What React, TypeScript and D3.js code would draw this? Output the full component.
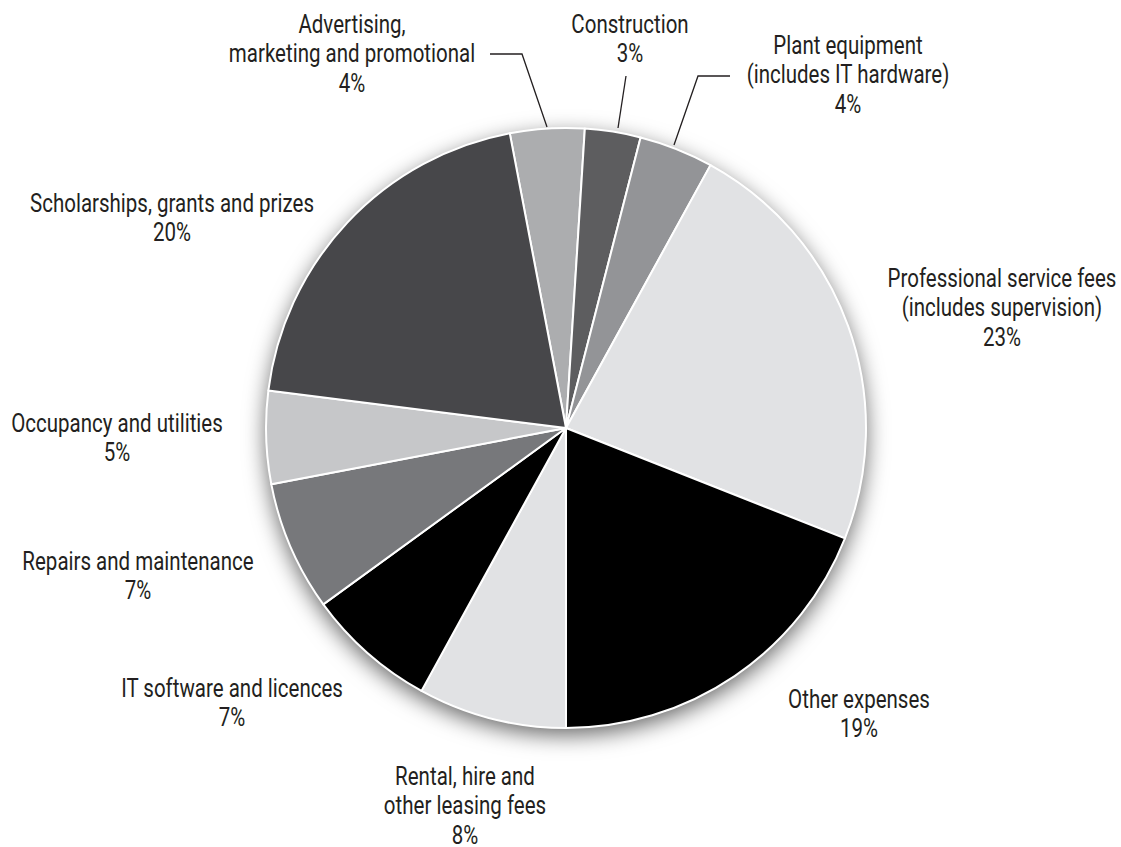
import React from "react";
import * as d3 from "d3";

const categories = [
  "Advertising,\nmarketing and promotional",
  "Construction",
  "Plant equipment\n(includes IT hardware)",
  "Professional service fees\n(includes supervision)",
  "Other expenses",
  "Rental, hire and\nother leasing fees",
  "IT software and licences",
  "Repairs and maintenance",
  "Occupancy and utilities",
  "Scholarships, grants and prizes",
];
const values = [4, 3, 4, 23, 19, 8, 7, 7, 5, 20];
const colors = [
  "#acadaf", "#5d5d5f", "#939497", "#e1e2e4", "#000000",
  "#e1e2e4", "#000000", "#77787b", "#c6c7c9", "#47474a",
];

// label layout: center x, first baseline y
const labelPos: [number, number][] = [
  [352, 33], [630, 33], [848, 54], [1002, 287], [859, 708],
  [465, 785], [232, 697], [138, 570], [117, 432], [172, 212],
];
// leader lines (index -> polyline points)
const leaders: { [k: number]: [number, number][] } = {
  0: [[490, 54], [522, 54], [547, 127]],
  1: [[626, 76], [618, 128]],
  2: [[730, 76], [698, 76], [674, 145]],
};

const W = 1121, H = 847;
const cx = 566, cy = 428, R = 300;
const startAngle = -0.03 * 2 * Math.PI;
const lineH = 29.3;
const FONT = "Roboto, 'Noto Sans', sans-serif";
const FS = 25;
const SX = 0.82;

export default function App() {
  const pie = d3.pie<number>().sort(null).value((d) => d)
    .startAngle(startAngle).endAngle(startAngle + 2 * Math.PI);
  const arcs = pie(values);
  const arc = d3.arc<d3.PieArcDatum<number>>().innerRadius(0).outerRadius(R);
  const line = d3.line();
  return (
    <svg width={W} height={H} style={{ position: "absolute", left: 0, top: 0, background: "#fff" }}>
      <defs>
        <filter id="sh" x="-20%" y="-20%" width="140%" height="140%">
          <feDropShadow dx="0" dy="7" stdDeviation="11" floodColor="#000" floodOpacity="0.6" />
        </filter>
      </defs>
      <circle cx={cx} cy={cy} r={R} fill="#fff" filter="url(#sh)" />
      <g transform={`translate(${cx},${cy})`}>
        {arcs.map((a, i) => (
          <path key={i} d={arc(a) || ""} fill={colors[i]} stroke="#fff" strokeWidth={2} strokeLinejoin="round" />
        ))}
      </g>
      {Object.entries(leaders).map(([k, pts]) => (
        <path key={k} d={line(pts) || ""} fill="none" stroke="#231f20" strokeWidth={1.3} />
      ))}
      {categories.map((c, i) => {
        const lines = [...c.split("\n"), `${values[i]}%`];
        const [x, y] = labelPos[i];
        return (
          <text key={i} transform={`translate(${x},${y}) scale(${SX},1)`} textAnchor="middle"
            fontFamily={FONT} fontSize={FS} fill="#231f20">
            {lines.map((l, j) => (
              <tspan key={j} x={0} y={j * lineH}>{l}</tspan>
            ))}
          </text>
        );
      })}
    </svg>
  );
}
